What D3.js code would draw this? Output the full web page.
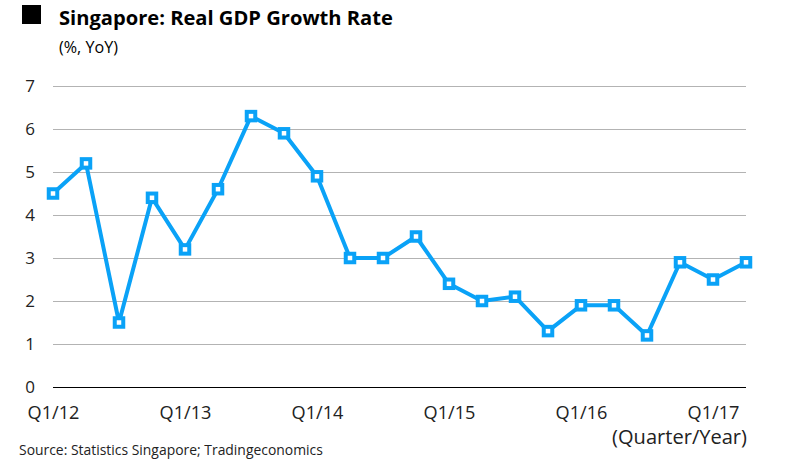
<!DOCTYPE html>
<html><head><meta charset="utf-8">
<script src="https://cdn.jsdelivr.net/npm/d3@7"></script>
<style>body{margin:0;background:#fff}svg{display:block}</style>
</head><body>
<svg id="c" width="800" height="467"></svg>
<script>
const quarters = ["Q1/12","Q2/12","Q3/12","Q4/12","Q1/13","Q2/13","Q3/13","Q4/13","Q1/14","Q2/14","Q3/14","Q4/14","Q1/15","Q2/15","Q3/15","Q4/15","Q1/16","Q2/16","Q3/16","Q4/16","Q1/17","Q2/17"];
const growth = [4.5,5.2,1.5,4.4,3.2,4.6,6.3,5.9,4.9,3.0,3.0,3.5,2.4,2.0,2.1,1.3,1.9,1.9,1.2,2.9,2.5,2.9];
const xTickLabels = ["Q1/12","Q1/13","Q1/14","Q1/15","Q1/16","Q1/17"];
const yTicks = [0,1,2,3,4,5,6,7];

const svg = d3.select("#c");
const font = "'Open Sans', sans-serif";
const x = d3.scalePoint().domain(quarters).range([53, 746]);
const y = d3.scaleLinear().domain([0,7]).range([387, 86]);

function fit(sel, target){
  const n = sel.node(); const fs = +sel.attr("font-size");
  const w = n.getComputedTextLength();
  sel.attr("font-size", fs*target/w);
}

// title
svg.append("rect").attr("x",22).attr("y",5).attr("width",19).attr("height",19).attr("fill","#000");
svg.append("text").attr("x",59).attr("y",25).attr("font-family",font).attr("font-weight","bold")
  .attr("font-size",20).attr("fill","#000").text("Singapore: Real GDP Growth Rate").call(fit,334);
svg.append("text").attr("x",59).attr("y",53).attr("font-family",font).attr("font-size",14).attr("fill","#000").text("(%, YoY)").call(fit,59);

// grid
const yAxis = d3.axisLeft(y).tickValues(yTicks).tickFormat(d3.format("d")).tickSize(-(746-53)).tickPadding(18);
const gy = svg.append("g").attr("transform","translate(53,0)").call(yAxis);
gy.select(".domain").remove();
gy.selectAll(".tick line").attr("stroke","#b3b3b3").attr("stroke-width",1.3)
  .attr("shape-rendering","crispEdges");
gy.selectAll(".tick text").attr("font-family",font).attr("font-size",17).attr("fill","#222").attr("text-anchor","end").attr("x",-18);
gy.selectAll(".tick").filter(d=>d===0).select("line").attr("stroke","#000").attr("stroke-width",1.5);

// x axis labels
const xAxis = d3.axisBottom(x).tickValues(xTickLabels).tickSize(0).tickPadding(19);
const gx = svg.append("g").attr("transform","translate(0,387)").call(xAxis);
gx.select(".domain").remove();
gx.selectAll(".tick text").attr("font-family",font).attr("font-size",15).attr("fill","#222")
  .each(function(){ fit(d3.select(this),52); });

svg.append("text").attr("x",747).attr("y",444).attr("text-anchor","end").attr("font-family",font)
  .attr("font-size",15).attr("fill","#222").text("(Quarter/Year)").call(fit,135);
svg.append("text").attr("x",19).attr("y",455).attr("font-family",font)
  .attr("font-size",13).attr("fill","#222").text("Source: Statistics Singapore; Tradingeconomics").call(fit,304);

// line
const color = "#0aa2f7";
svg.append("path").datum(growth)
  .attr("d", d3.line().x((d,i)=>x(quarters[i])).y(d=>y(d)))
  .attr("fill","none").attr("stroke",color).attr("stroke-width",4).attr("stroke-linejoin","round");
svg.selectAll("rect.m").data(growth).join("rect").attr("class","m")
  .attr("x",(d,i)=>x(quarters[i])-4.25).attr("y",d=>y(d)-4.25).attr("width",8.5).attr("height",8.5)
  .attr("fill","#fff").attr("stroke",color).attr("stroke-width",4);
</script>
</body></html>
